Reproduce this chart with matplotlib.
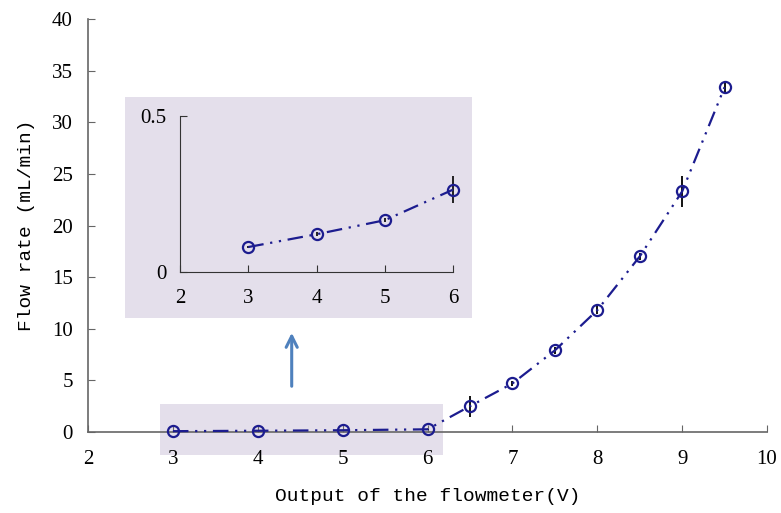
import matplotlib.pyplot as plt
from matplotlib.patches import Rectangle

# data
voltage = [3, 4, 5, 6, 6.5, 7, 7.5, 8, 8.5, 9, 9.5]
flow = [0.08, 0.12, 0.17, 0.26, 2.5, 4.7, 7.9, 11.8, 17.0, 23.3, 33.4]
flow_err = [0.01, 0.01, 0.01, 0.04, 1.0, 0.2, 0.3, 0.4, 0.3, 1.5, 0.5]

low_voltage = [3, 4, 5, 6]
low_flow = [0.08, 0.121, 0.166, 0.264]
low_err = [0.004, 0.006, 0.006, 0.044]

main_xticks = [2, 3, 4, 5, 6, 7, 8, 9, 10]
main_yticks = [0, 5, 10, 15, 20, 25, 30, 35, 40]
inset_xticks = [2, 3, 4, 5, 6]
inset_yticks = [0, 0.5]

line_col = '#1c1c8f'
shade = '#e4dfeb'
spine_col = '#666666'
dashdotdot = (0, (7, 3, 1, 3, 1, 3))
tick_font = 'Liberation Serif'
label_font = 'Liberation Mono'

fig = plt.figure(figsize=(7.81, 5.13), dpi=100)
ax = fig.add_axes([0.1127, 0.1579, 0.8694, 0.805])

# shaded region around the low-flow points
ax.add_patch(Rectangle((2.85, -2.2), 3.33, 4.9, facecolor=shade,
                       edgecolor='none', zorder=0, clip_on=False))

ax.errorbar(voltage, flow, yerr=flow_err, color=line_col, ecolor='black',
            elinewidth=1.3, capsize=0, marker='o', markersize=8,
            markerfacecolor='none', markeredgecolor=line_col, markeredgewidth=1.6,
            linestyle=dashdotdot, linewidth=1.6, zorder=3, clip_on=False)

ax.set_xlim(2, 10)
ax.set_ylim(0, 40)
ax.set_xticks(main_xticks)
ax.set_yticks(main_yticks)
for s in ['top', 'right']:
    ax.spines[s].set_visible(False)
for s in ['left', 'bottom']:
    ax.spines[s].set_color(spine_col)
    ax.spines[s].set_linewidth(1.2)
ax.tick_params(direction='in', length=5, color=spine_col, labelsize=15)
ax.tick_params(axis='x', pad=13)
ax.tick_params(axis='y', pad=11)
for lab in ax.get_xticklabels() + ax.get_yticklabels():
    lab.set_family(tick_font)
ax.set_xlabel('Output of the flowmeter(V)', family=label_font, fontsize=14, labelpad=14)
ax.set_ylabel('Flow rate (mL/min)', family=label_font, fontsize=14, labelpad=12)

# inset background
fig.patches.append(Rectangle((0.160, 0.3801), 0.4443, 0.4308, transform=fig.transFigure,
                             facecolor=shade, edgecolor='none', zorder=0.5))

ins = fig.add_axes([0.2305, 0.4698, 0.3496, 0.304])
ins.set_zorder(1)
ins.patch.set_visible(False)
ins.errorbar(low_voltage, low_flow, yerr=low_err, color=line_col, ecolor='black',
             elinewidth=1.2, capsize=0, marker='o', markersize=8,
             markerfacecolor='none', markeredgecolor=line_col, markeredgewidth=1.6,
             linestyle=dashdotdot, linewidth=1.6, zorder=3, clip_on=False)
ins.set_xlim(2, 6)
ins.set_ylim(0, 0.5)
ins.set_xticks(inset_xticks)
ins.set_yticks(inset_yticks)
ins.set_yticklabels(['0', '0.5'])
for s in ['top', 'right']:
    ins.spines[s].set_visible(False)
for s in ['left', 'bottom']:
    ins.spines[s].set_color('#333333')
ins.tick_params(direction='in', length=5, color='#333333', labelsize=15)
ins.tick_params(axis='x', pad=12)
ins.tick_params(axis='y', pad=10)
for lab in ins.get_xticklabels() + ins.get_yticklabels():
    lab.set_family(tick_font)

# arrow pointing from the highlighted region up to the inset
fig.add_artist(plt.Annotation('', xy=(0.3735, 0.3567), xytext=(0.3735, 0.2417),
                              xycoords='figure fraction', textcoords='figure fraction',
                              arrowprops=dict(arrowstyle='->', color='#4f81bd', lw=2.2,
                                              mutation_scale=20)))

fig.savefig('out.png', dpi=100)
